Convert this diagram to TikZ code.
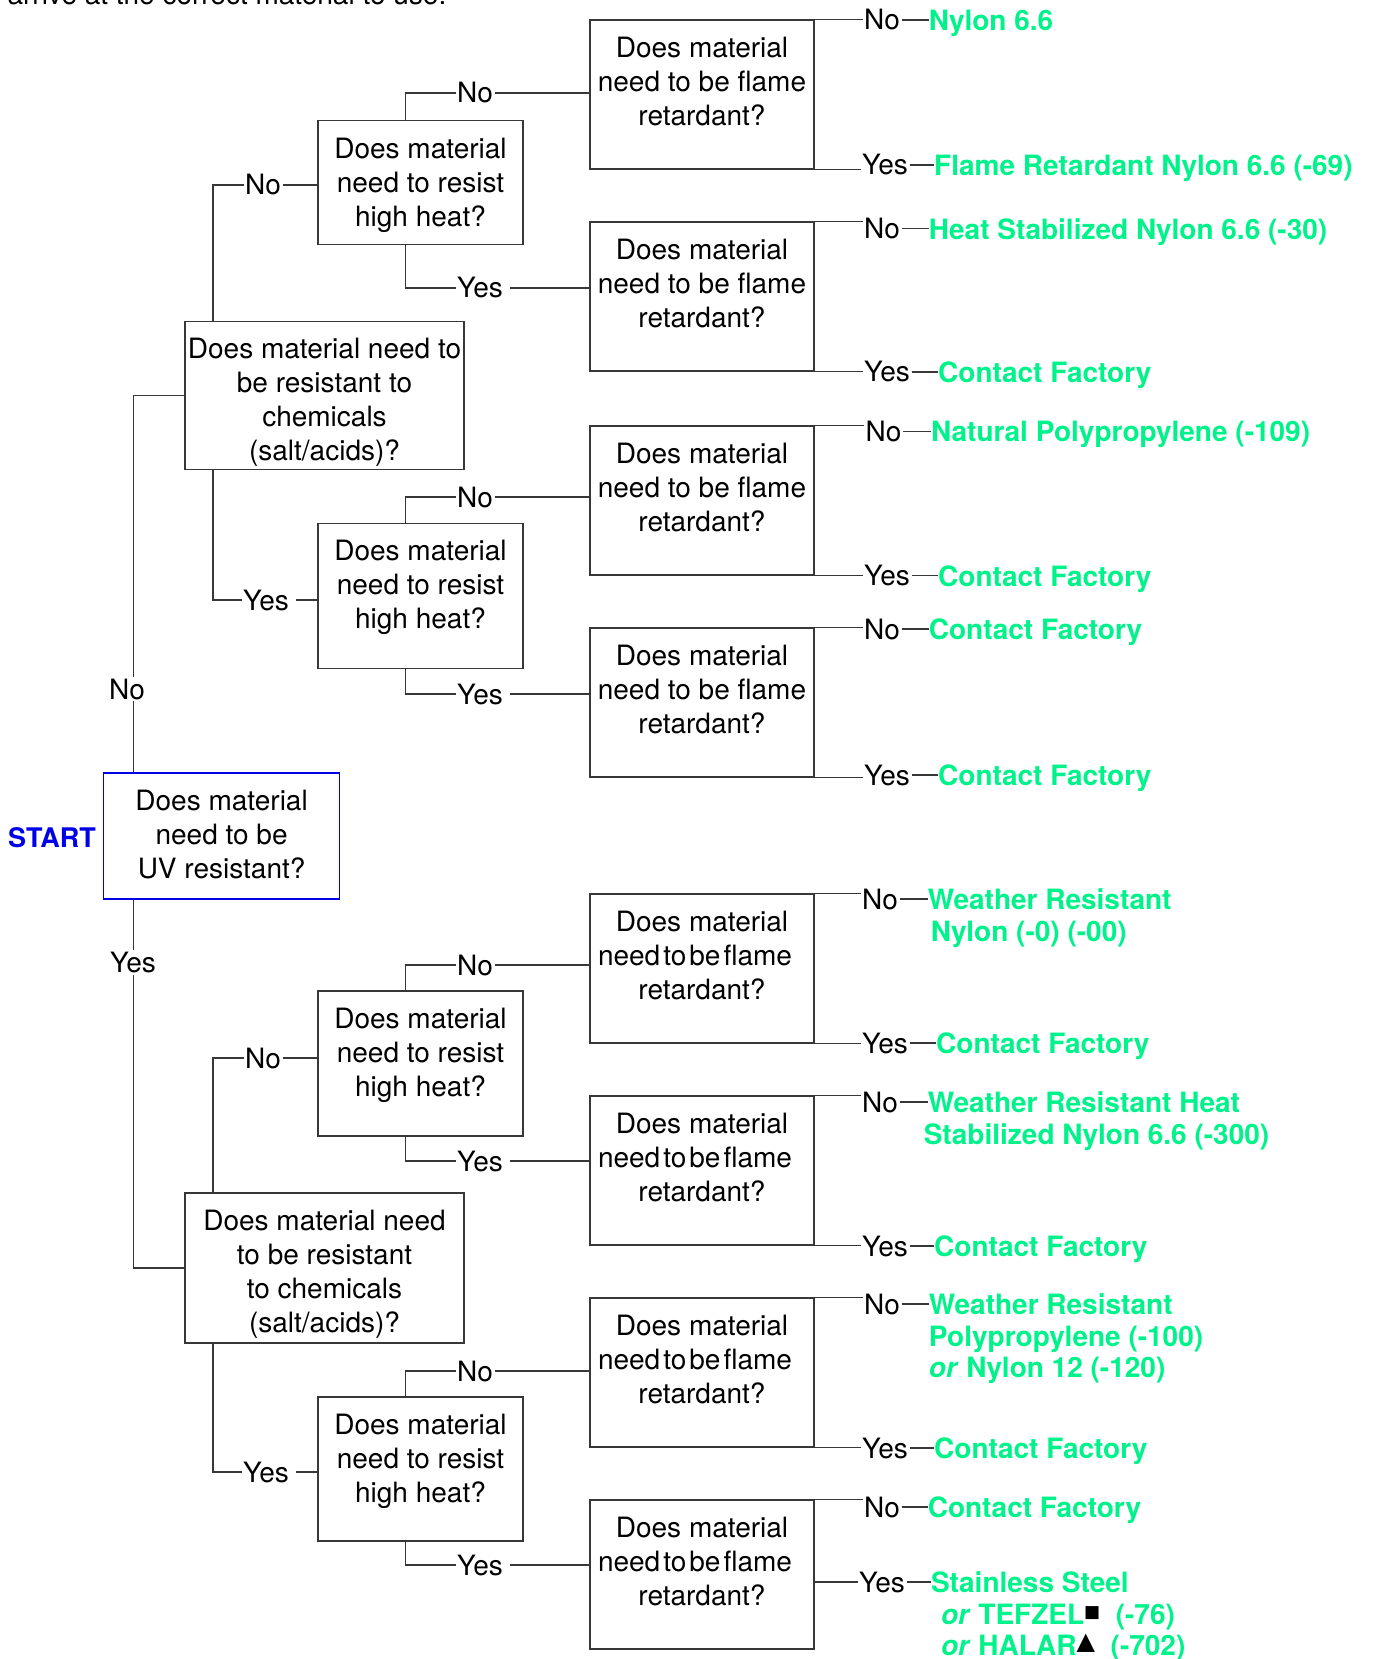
\documentclass[tikz,border=0pt]{standalone}
\usepackage{fontspec}
\setmainfont{TeX Gyre Heros}
\newfontfamily\markfont{DejaVu Sans}
\definecolor{endgreen}{RGB}{0,242,138}
\definecolor{startblue}{RGB}{0,0,235}
\definecolor{linegray}{RGB}{55,55,55}
\newcommand{\asktext}[3]{\parbox[c][#2][t]{#1}{\centering\vspace*{17pt}#3}}
\newcommand{\tightflame}{need\hspace{3pt}to\hspace{3pt}be\hspace{3pt}flame\hspace*{14pt}\mbox{}}
\newcommand{\tefzelmark}{\raisebox{7pt}{\markfont\fontsize{17}{17}\selectfont\color{black}■}}
\newcommand{\halarmark}{\raisebox{6pt}{\markfont\fontsize{24}{24}\selectfont\color{black}▲}}

\begin{document}
\begin{tikzpicture}[x=1pt,y=-1pt,
  ask node/.style={draw=linegray,line width=1.3pt,inner sep=0pt,font=\fontsize{28}{34}\selectfont},
  start node/.style={inner sep=0pt,text=startblue,font=\fontsize{27}{32}\selectfont\bfseries},
  tag node/.style={inner sep=1.5pt,font=\fontsize{28}{34}\selectfont},
  end node/.style={anchor=north west,inner sep=0pt,align=left,text=endgreen,font=\fontsize{28}{31.5}\selectfont\bfseries},
  link/.style={draw=linegray,line width=1.3pt}]
  \useasboundingbox (0,0) rectangle (1376,1659);
  \clip (0,0) rectangle (1376,1659);

  \node[anchor=base west,inner sep=0pt,font=\fontsize{28}{34}\selectfont] (intro) at (7.4,5) {arrive at the correct material to use.};

  % first question
  \node[start node] (start) at (52,838) {START};
  \node[ask node,draw=startblue,line width=1.2pt] (uv) at (221.6,836) {\asktext{236pt}{126pt}{Does material\\need to be\\UV resistant?}};

  % chemicals
  \node[ask node] (c1) at (324.5,395.5) {\asktext{279pt}{148pt}{Does material need to\\be resistant to\\chemicals\\(salt/acids)?}};
  \node[ask node] (c2) at (324.5,1268) {\asktext{279pt}{150pt}{Does material need\\to be resistant\\to chemicals\\(salt/acids)?}};

  % heat
  \node[ask node] (h1) at (420.5,182.6) {\asktext{205pt}{124pt}{Does material\\need to resist\\high heat?}};
  \node[ask node] (h2) at (420.5,596) {\asktext{205pt}{145pt}{Does material\\need to resist\\high heat?}};
  \node[ask node] (h3) at (420.5,1063.5) {\asktext{205pt}{145pt}{Does material\\need to resist\\high heat?}};
  \node[ask node] (h4) at (420.5,1469) {\asktext{205pt}{144pt}{Does material\\need to resist\\high heat?}};

  % flame
  \node[ask node] (f1) at (702,94.5) {\asktext{224pt}{149pt}{Does material\\need to be flame\\retardant?}};
  \node[ask node] (f2) at (702,296.5) {\asktext{224pt}{149pt}{Does material\\need to be flame\\retardant?}};
  \node[ask node] (f3) at (702,500.5) {\asktext{224pt}{149pt}{Does material\\need to be flame\\retardant?}};
  \node[ask node] (f4) at (702,702.5) {\asktext{224pt}{149pt}{Does material\\need to be flame\\retardant?}};
  \node[ask node] (f5) at (702,968.5) {\asktext{224pt}{149pt}{Does material\\\tightflame\\retardant?}};
  \node[ask node] (f6) at (702,1170.5) {\asktext{224pt}{149pt}{Does material\\\tightflame\\retardant?}};
  \node[ask node] (f7) at (702,1372.5) {\asktext{224pt}{149pt}{Does material\\\tightflame\\retardant?}};
  \node[ask node] (f8) at (702,1574.5) {\asktext{224pt}{149pt}{Does material\\\tightflame\\retardant?}};

  % answers on the branches
  \node[tag node] (uvn) at (127,689) {No};
  \node[tag node] (uvy) at (133,962.5) {Yes};
  \node[tag node,anchor=west] (c1n) at (243.5,185) {No};
  \node[tag node,anchor=west] (c1y) at (241.5,600) {Yes};
  \node[tag node,anchor=west] (c2n) at (243.5,1058) {No};
  \node[tag node,anchor=west] (c2y) at (241.5,1472) {Yes};
  \node[tag node,anchor=west] (h1n) at (455.5,93) {No};
  \node[tag node,anchor=west] (h1y) at (455.5,288) {Yes};
  \node[tag node,anchor=west] (h2n) at (455.5,497) {No};
  \node[tag node,anchor=west] (h2y) at (455.5,694) {Yes};
  \node[tag node,anchor=west] (h3n) at (455.5,965) {No};
  \node[tag node,anchor=west] (h3y) at (455.5,1161) {Yes};
  \node[tag node,anchor=west] (h4n) at (455.5,1371) {No};
  \node[tag node,anchor=west] (h4y) at (455.5,1565) {Yes};

  \node[tag node,anchor=west] (f1n) at (862.5,20) {No};
  \node[tag node,anchor=west] (f1y) at (860.5,165) {Yes};
  \node[tag node,anchor=west] (f2n) at (862.5,228.5) {No};
  \node[tag node,anchor=west] (f2y) at (862.5,372) {Yes};
  \node[tag node,anchor=west] (f3n) at (864,431.5) {No};
  \node[tag node,anchor=west] (f3y) at (862.5,575.4) {Yes};
  \node[tag node,anchor=west] (f4n) at (862.5,629) {No};
  \node[tag node,anchor=west] (f4y) at (862.5,775) {Yes};
  \node[tag node,anchor=west] (f5n) at (860.5,899) {No};
  \node[tag node,anchor=west] (f5y) at (860.5,1043) {Yes};
  \node[tag node,anchor=west] (f6n) at (860.5,1102) {No};
  \node[tag node,anchor=west] (f6y) at (860.5,1246) {Yes};
  \node[tag node,anchor=west] (f7n) at (862.5,1304) {No};
  \node[tag node,anchor=west] (f7y) at (860.5,1448) {Yes};
  \node[tag node,anchor=west] (f8n) at (862.5,1507) {No};
  \node[tag node,anchor=west] (f8y) at (857.5,1582) {Yes};

  % materials
  \node[end node] (r1n) at (928.7,9.7) {Nylon 6.6};
  \node[end node] (r1y) at (934,154.7) {Flame Retardant Nylon 6.6 (-69)};
  \node[end node] (r2n) at (928.7,218.2) {Heat Stabilized Nylon 6.6 (-30)};
  \node[end node] (r2y) at (938,361.7) {Contact Factory};
  \node[end node] (r3n) at (930.8,421.2) {Natural Polypropylene (-109)};
  \node[end node] (r3y) at (938,565.1) {Contact Factory};
  \node[end node] (r4n) at (928.7,618.7) {Contact Factory};
  \node[end node] (r4y) at (938,764.7) {Contact Factory};
  \node[end node] (r5n) at (927.6,888.7) {Weather Resistant\\\hspace*{3pt}Nylon (-0) (-00)};
  \node[end node] (r5y) at (936,1032.7) {Contact Factory};
  \node[end node] (r6n) at (927.6,1091.7) {Weather Resistant Heat\\\hspace*{-4pt}Stabilized Nylon 6.6 (-300)};
  \node[end node] (r6y) at (934,1235.7) {Contact Factory};
  \node[end node] (r7n) at (928.7,1293.7) {Weather Resistant\\Polypropylene (-100)\\\textit{or} Nylon 12 (-120)};
  \node[end node] (r7y) at (934,1437.7) {Contact Factory};
  \node[end node] (r8n) at (927.6,1496.7) {Contact Factory};
  \node[end node] (r8y) at (930.8,1571.7) {Stainless Steel\\\hspace*{10pt}\textit{or} TEFZEL\tefzelmark\ \ (-76)\\\hspace*{10pt}\textit{or} HALAR\halarmark\ \ (-702)};

  % UV stems
  \coordinate (uvstem) at ([xshift=30.6]uv.north west);
  \coordinate (uvfoot) at ([xshift=30.6]uv.south west);
  \draw[link] (uvstem) -- (uvstem |- uvn.south);
  \draw[link] (uvstem |- uvn.north) |- (c1.west);
  \draw[link] (uvfoot) -- (uvfoot |- uvy.north);
  \draw[link] (uvfoot |- uvy.south) |- (c2.west);

  % chemical stems
  \draw[link] ([xshift=28.7]c1.north west) |- (c1n.west);
  \draw[link] (c1n.east) -- (c1n.east -| h1.west);
  \draw[link] ([xshift=28.7]c1.south west) |- (c1y.west);
  \draw[link,shorten <=5pt] (c1y.east) -- (c1y.east -| h2.west);
  \draw[link] ([xshift=28.7]c2.north west) |- (c2n.west);
  \draw[link] (c2n.east) -- (c2n.east -| h3.west);
  \draw[link] ([xshift=28.7]c2.south west) |- (c2y.west);
  \draw[link,shorten <=5pt] (c2y.east) -- (c2y.east -| h4.west);

  % heat stems
  \draw[link] ([xshift=88]h1.north west) |- (h1n.west);
  \draw[link] (h1n.east) -- (h1n.east -| f1.west);
  \draw[link] ([xshift=88]h1.south west) |- (h1y.west);
  \draw[link,shorten <=5pt] (h1y.east) -- (h1y.east -| f2.west);
  \draw[link] ([xshift=88]h2.north west) |- (h2n.west);
  \draw[link] (h2n.east) -- (h2n.east -| f3.west);
  \draw[link] ([xshift=88]h2.south west) |- (h2y.west);
  \draw[link,shorten <=5pt] (h2y.east) -- (h2y.east -| f4.west);
  \draw[link] ([xshift=88]h3.north west) |- (h3n.west);
  \draw[link] (h3n.east) -- (h3n.east -| f5.west);
  \draw[link] ([xshift=88]h3.south west) |- (h3y.west);
  \draw[link,shorten <=5pt] (h3y.east) -- (h3y.east -| f6.west);
  \draw[link] ([xshift=88]h4.north west) |- (h4n.west);
  \draw[link] (h4n.east) -- (h4n.east -| f7.west);
  \draw[link] ([xshift=88]h4.south west) |- (h4y.west);
  \draw[link,shorten <=5pt] (h4y.east) -- (h4y.east -| f8.west);

  % flame outlets
  \draw[link] (f1.north east) -- (f1.north east -| f1n.west);
  \draw[link] (f1.south east) -- (f1.south east -| f1y.west);
  \draw[link] (f2.north east) -- (f2.north east -| f2n.west);
  \draw[link] (f2.south east) -- (f2.south east -| f2y.west);
  \draw[link] (f3.north east) -- (f3.north east -| f3n.west);
  \draw[link] (f3.south east) -- (f3.south east -| f3y.west);
  \draw[link] (f4.north east) -- (f4.north east -| f4n.west);
  \draw[link] (f4.south east) -- (f4.south east -| f4y.west);
  \draw[link] (f5.north east) -- (f5.north east -| f5n.west);
  \draw[link] (f5.south east) -- (f5.south east -| f5y.west);
  \draw[link] (f6.north east) -- (f6.north east -| f6n.west);
  \draw[link] (f6.south east) -- (f6.south east -| f6y.west);
  \draw[link] (f7.north east) -- (f7.north east -| f7n.west);
  \draw[link] (f7.south east) -- (f7.south east -| f7y.west);
  \draw[link] (f8.north east) -- (f8.north east -| f8n.west);
  \draw[link] (f8.east |- f8y.west) -- (f8y.west);

  % dashes to the materials
  \draw[link] (f1n.east) -- (f1n.east -| r1n.west);
  \draw[link] (f1y.east) -- (f1y.east -| r1y.west);
  \draw[link] (f2n.east) -- (f2n.east -| r2n.west);
  \draw[link] (f2y.east) -- (f2y.east -| r2y.west);
  \draw[link] (f3n.east) -- (f3n.east -| r3n.west);
  \draw[link] (f3y.east) -- (f3y.east -| r3y.west);
  \draw[link] (f4n.east) -- (f4n.east -| r4n.west);
  \draw[link] (f4y.east) -- (f4y.east -| r4y.west);
  \draw[link] (f5n.east) -- (f5n.east -| r5n.west);
  \draw[link] (f5y.east) -- (f5y.east -| r5y.west);
  \draw[link] (f6n.east) -- (f6n.east -| r6n.west);
  \draw[link] (f6y.east) -- (f6y.east -| r6y.west);
  \draw[link] (f7n.east) -- (f7n.east -| r7n.west);
  \draw[link] (f7y.east) -- (f7y.east -| r7y.west);
  \draw[link] (f8n.east) -- (f8n.east -| r8n.west);
  \draw[link] (f8y.east) -- (f8y.east -| r8y.west);
\end{tikzpicture}
\end{document}
